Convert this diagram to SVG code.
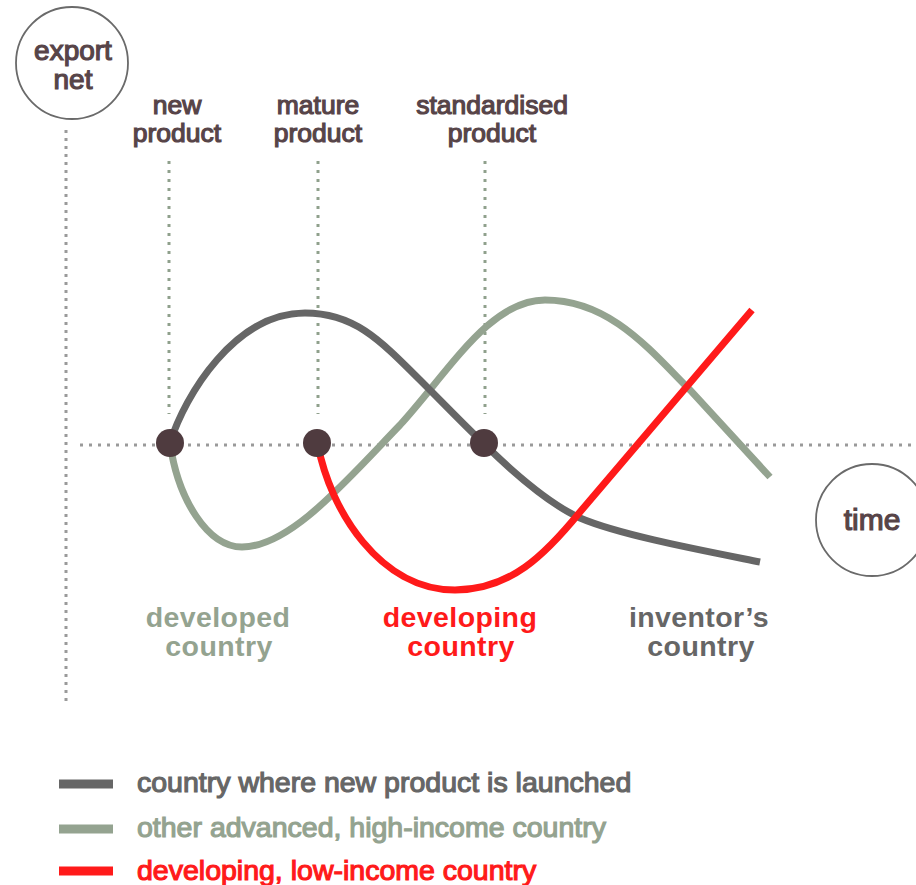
<svg xmlns="http://www.w3.org/2000/svg" width="916" height="885" viewBox="0 0 916 885">
<style>
.lbl{font-family:"Liberation Sans",Arial,sans-serif;font-size:26.5px;fill:#574448;stroke:#574448;stroke-width:1.2;paint-order:stroke;text-anchor:middle}
.big{font-size:28px}
.cty{font-family:"Liberation Sans",Arial,sans-serif;font-size:28.5px;font-weight:bold;letter-spacing:0.4px;text-anchor:middle}
.leg{font-family:"Liberation Sans",Arial,sans-serif;font-size:28.5px;stroke-width:1.2;paint-order:stroke}
.axis{fill:none;stroke:#9a9a9a;stroke-width:3;stroke-dasharray:3 6}
.guide{fill:none;stroke:#8fa08c;stroke-width:3;stroke-dasharray:3 6}
.curve{fill:none;stroke-width:7;stroke-linecap:butt}
.gray{stroke:#666666}
.green{stroke:#94a390}
.red{stroke:#ff1a1a}
.dot{fill:#4f3b3f}
.ring{fill:#fff;stroke:#6a6a6a;stroke-width:1.8}
</style>
<rect width="916" height="885" fill="#fff"/>
<g id="axes">
<line class="axis" x1="66" y1="130" x2="66" y2="706" style="stroke-dasharray:3 5"/>
<line class="axis" x1="80" y1="445" x2="916" y2="445"/>
<line class="guide" x1="169" y1="161" x2="169" y2="414"/>
<line class="guide" x1="318" y1="161" x2="318" y2="414"/>
<line class="guide" x1="485" y1="161" x2="485" y2="414"/>
</g>
<g id="connectors">
<path class="curve green" d="M170,443 C178,500 208,547 242,547 C290,547 345,482 400,425 C450,370 490,300 545,300 C610,300 650,350 690,390 L770,477"/>
<path class="curve gray" d="M170,443 C185,395 235,313 305,313 C355,313 380,340 425,385 C470,430 530,495 580,518 C620,535 700,550 760,562"/>
<path class="curve red" d="M318,445 C330,510 380,590 455,590 C510,590 545,555 580,512 L752,310"/>
</g>
<g id="points">
<circle class="dot" cx="170" cy="443" r="14"/>
<circle class="dot" cx="317" cy="443" r="14"/>
<circle class="dot" cx="484" cy="443" r="14"/>
</g>
<g id="export-net">
<circle class="ring" cx="72" cy="63" r="56"/>
<text class="lbl big" x="73" y="60">export</text>
<text class="lbl big" x="73" y="89">net</text>
</g>
<g id="time">
<circle class="ring" cx="872" cy="520" r="56"/>
<text class="lbl big" x="872" y="530" style="font-size:30px">time</text>
</g>
<g id="new-product">
<text class="lbl" x="177" y="114">new</text>
<text class="lbl" x="177" y="142">product</text>
</g>
<g id="mature-product">
<text class="lbl" x="318" y="114">mature</text>
<text class="lbl" x="318" y="142">product</text>
</g>
<g id="standardised-product">
<text class="lbl" x="492" y="114">standardised</text>
<text class="lbl" x="492" y="142">product</text>
</g>
<g id="developed-country">
<text class="cty" x="218" y="627" fill="#94a390">developed</text>
<text class="cty" x="219" y="656" fill="#94a390">country</text>
</g>
<g id="developing-country">
<text class="cty" x="460" y="627" fill="#ff1a1a">developing</text>
<text class="cty" x="461" y="656" fill="#ff1a1a">country</text>
</g>
<g id="inventors-country">
<text class="cty" x="699" y="627" fill="#666666">inventor’s</text>
<text class="cty" x="701" y="656" fill="#666666">country</text>
</g>
<g id="legend">
<line x1="59" y1="784" x2="113" y2="784" stroke="#666666" stroke-width="9"/>
<text class="leg" x="137" y="792" fill="#666666" stroke="#666666">country where new product is launched</text>
<line x1="59" y1="829" x2="113" y2="829" stroke="#94a390" stroke-width="9"/>
<text class="leg" x="137" y="837" fill="#94a390" stroke="#94a390">other advanced, high-income country</text>
<line x1="59" y1="871" x2="113" y2="871" stroke="#ff1a1a" stroke-width="9"/>
<text class="leg" x="137" y="880" fill="#ff1a1a" stroke="#ff1a1a">developing, low-income country</text>
</g>
</svg>
